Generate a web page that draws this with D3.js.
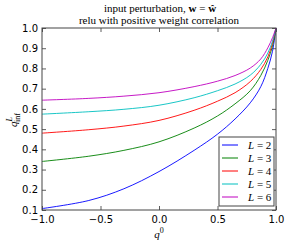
<!DOCTYPE html>
<html>
<head>
<meta charset="utf-8">
<script src="https://cdn.jsdelivr.net/npm/d3@7"></script>
<style>
  body { margin: 0; background: #fff; }
  svg { display: block; }
  .tick text { font-family: "DejaVu Sans", sans-serif; font-size: 10px; fill: #000; }
  .ttl { font-family: "Liberation Serif", serif; font-size: 11px; }
</style>
</head>
<body>
<svg id="chart" width="287" height="244"></svg>
<script>
// values
const qGrid = [-1, -0.6, -0.3, 0, 0.3, 0.5, 0.65, 0.78, 0.87, 0.93, 0.97, 1];
const depths = [2, 3, 4, 5, 6];
const qL2 = [0.107, 0.147, 0.205, 0.29, 0.395, 0.475, 0.55, 0.63, 0.71, 0.80, 0.885, 1.0];
const qL3 = [0.34, 0.366, 0.395, 0.437, 0.505, 0.565, 0.625, 0.69, 0.765, 0.84, 0.91, 1.0];
const qL4 = [0.48, 0.497, 0.515, 0.543, 0.593, 0.638, 0.68, 0.735, 0.795, 0.857, 0.925, 1.0];
const qL5 = [0.574, 0.586, 0.598, 0.618, 0.655, 0.69, 0.723, 0.767, 0.82, 0.876, 0.935, 1.0];
const qL6 = [0.643, 0.652, 0.663, 0.68, 0.71, 0.737, 0.765, 0.802, 0.847, 0.902, 0.952, 1.0];
const xTicks = [-1, -0.5, 0, 0.5, 1];
const yTicks = [0.1, 0.2, 0.3, 0.4, 0.5, 0.6, 0.7, 0.8, 0.9, 1.0];

const series = [qL2, qL3, qL4, qL5, qL6];
const colors = ["#0000ff", "#008000", "#ff0000", "#00bfbf", "#bf00bf"];

const margin = {left: 42, right: 11, top: 28, bottom: 34};
const W = 287, H = 244;
const svg = d3.select("#chart");

const x = d3.scaleLinear().domain([-1, 1]).range([margin.left, W - margin.right]);
const y = d3.scaleLinear().domain([0.1, 1.0]).range([H - margin.bottom, margin.top]);

const fmt = d => d3.format(".1f")(d).replace("-", "\u2212");

// axes, ticks pointing inward on all four sides
svg.append("g").attr("transform", `translate(0,${y(0.1)})`)
  .call(d3.axisBottom(x).tickValues(xTicks).tickSize(-4).tickPadding(6).tickFormat(fmt));
svg.append("g").attr("transform", `translate(0,${y(1)})`)
  .call(d3.axisTop(x).tickValues(xTicks).tickSize(-4).tickFormat(""));
svg.append("g").attr("transform", `translate(${x(-1)},0)`)
  .call(d3.axisLeft(y).tickValues(yTicks).tickSize(-4).tickPadding(4).tickFormat(fmt));
svg.append("g").attr("transform", `translate(${x(1)},0)`)
  .call(d3.axisRight(y).tickValues(yTicks).tickSize(-4).tickFormat(""));
svg.selectAll(".domain").remove();
svg.selectAll(".tick line").attr("stroke", "#333").attr("stroke-width", 0.8);

// curves
const line = d3.line()
  .x((d, i) => x(qGrid[i]))
  .y(d => y(d))
  .curve(d3.curveCatmullRom.alpha(0.5));

svg.append("g").selectAll("path")
  .data(series)
  .enter()
  .append("path")
  .attr("d", line)
  .attr("fill", "none")
  .attr("stroke", (d, i) => colors[i])
  .attr("stroke-width", 0.9);

// frame
svg.append("rect")
  .attr("x", x(-1)).attr("y", y(1))
  .attr("width", x(1) - x(-1)).attr("height", y(0.1) - y(1))
  .attr("fill", "none").attr("stroke", "#444").attr("stroke-width", 1);

// title
const t1 = svg.append("text").attr("class", "ttl").attr("text-anchor", "middle")
  .attr("x", 160).attr("y", 12);
t1.append("tspan").text("input perturbation, ");
t1.append("tspan").attr("font-weight", "bold").text("w");
t1.append("tspan").text(" = ");
t1.append("tspan").attr("font-weight", "bold").text("\u0175");
svg.append("text").attr("class", "ttl").attr("text-anchor", "middle")
  .attr("x", 159).attr("y", 24).text("relu with positive weight correlation");

// x label
const xl = svg.append("text").attr("class", "ttl").attr("font-size", 12)
  .attr("x", 159).attr("y", 238).attr("text-anchor", "middle");
xl.append("tspan").attr("font-style", "italic").text("q");
xl.append("tspan").attr("font-size", 8).attr("dy", -5).text("0");

// y label
const yl = svg.append("text").attr("class", "ttl").attr("font-size", 12)
  .attr("transform", "translate(17,120) rotate(-90)").attr("text-anchor", "middle");
yl.append("tspan").attr("font-style", "italic").text("q");
yl.append("tspan").attr("font-size", 8).attr("font-style", "italic").attr("dy", -5).text("L");
yl.append("tspan").attr("font-size", 8).attr("dx", -5).attr("dy", 8).text("inf");

// legend
const legend = svg.append("g").attr("transform", "translate(219,137)");
legend.append("rect").attr("width", 55).attr("height", 69)
  .attr("fill", "#fff").attr("stroke", "#444").attr("stroke-width", 1);
const items = legend.selectAll(".item")
  .data(depths)
  .enter()
  .append("g")
  .attr("transform", (d, i) => `translate(0,${8 + i * 13})`);
items.append("line").attr("x1", 3).attr("x2", 19)
  .attr("stroke", (d, i) => colors[i]).attr("stroke-width", 1);
items.append("text").attr("class", "ttl").attr("x", 29).attr("y", 3.5).attr("font-size", 10)
  .each(function(d) {
    const t = d3.select(this);
    t.append("tspan").attr("font-style", "italic").text("L");
    t.append("tspan").text(" = " + d);
  });
</script>
</body>
</html>
